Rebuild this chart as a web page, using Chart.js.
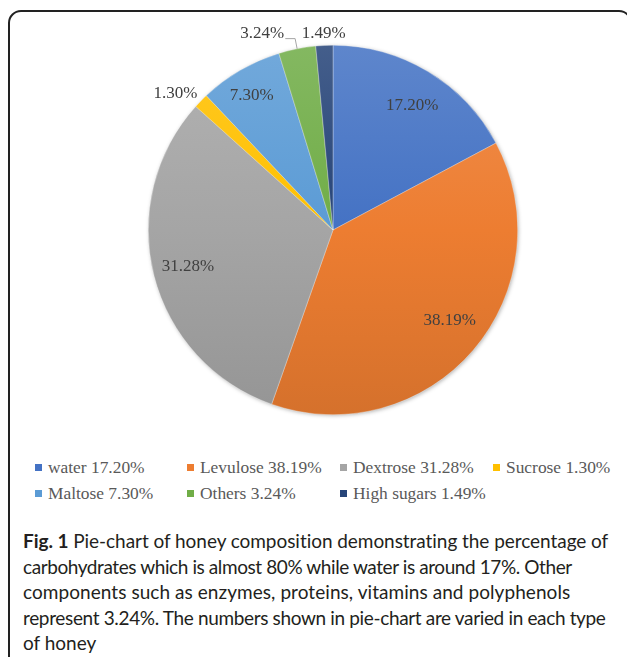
<!DOCTYPE html>
<html>
<head>
<meta charset="utf-8">
<script src="https://cdn.jsdelivr.net/npm/chart.js@4"></script>
<style>
  html, body { margin:0; padding:0; background:#fff; width:627px; height:657px; overflow:hidden; }
  #frame { position:absolute; left:8px; top:10px; width:620px; height:700px; border:2px solid #222; border-radius:13px; }
  #wrap { position:absolute; left:0; top:0; width:627px; height:440px; }
  #legend { position:absolute; left:35px; top:454px; display:grid; grid-template-columns:152px 153px 153px auto; grid-auto-rows:26px;
            font-family:"Liberation Serif","Times New Roman",serif; font-size:17.4px; color:#595959; }
  #legend .it { display:flex; align-items:center; white-space:nowrap; }
  #legend .sw { width:7px; height:7px; margin-right:6px; flex:none; }
  #caption { position:absolute; left:23px; top:528px; font-family:"Lato","Open Sans",sans-serif; font-size:19px; line-height:25.5px; color:#231f20; white-space:nowrap; }
  #caption .l1 { letter-spacing:-0.05px; }
  #caption .l2 { letter-spacing:-0.41px; }
  #caption .l3 { letter-spacing:0.06px; }
  #caption .l4 { letter-spacing:-0.35px; }
</style>
</head>
<body>
<div id="frame"></div>
<div id="wrap"><canvas id="c"></canvas></div>
<div id="legend"></div>
<div id="caption"><div class="l1"><b>Fig. 1</b> Pie-chart of honey composition demonstrating the percentage of</div><div class="l2">carbohydrates which is almost 80% while water is around 17%. Other</div><div class="l3">components such as enzymes, proteins, vitamins and polyphenols</div><div class="l4">represent 3.24%. The numbers shown in pie-chart are varied in each type</div><div>of honey</div></div>
<script>
const categories = ["water", "Levulose", "Dextrose", "Sucrose", "Maltose", "Others", "High sugars"];
const values = [17.20, 38.19, 31.28, 1.30, 7.30, 3.24, 1.49];
const baseColors = ["#4472C4", "#ED7D31", "#A5A5A5", "#FFC000", "#5B9BD5", "#70AD47", "#264478"];

// label placement: radius factor and angle offset (deg) relative to slice middle
const labelRadius = [0.8, 0.8, 0.81, 1.13, 0.85, 1.13, 1.065];
const labelAngleOffset = [1.4, -2.8, 0, -3.4, -1, -8.6, 0];
const leaderLine = [false, false, false, false, false, true, false];

function shade(hex, f) {
  const n = parseInt(hex.slice(1), 16);
  let r = (n >> 16) & 255, g = (n >> 8) & 255, b = n & 255;
  if (f > 0) { r += (255 - r) * f; g += (255 - g) * f; b += (255 - b) * f; }
  else { r *= (1 + f); g *= (1 + f); b *= (1 + f); }
  return `rgb(${Math.round(r)},${Math.round(g)},${Math.round(b)})`;
}

function gradientFor(ctx) {
  const chart = ctx.chart;
  const ca = chart.chartArea;
  if (!ca) return baseColors[ctx.dataIndex];
  const base = baseColors[ctx.dataIndex];
  const g = chart.ctx.createLinearGradient(0, ca.top, 0, ca.bottom);
  g.addColorStop(0, shade(base, 0.14));
  g.addColorStop(0.5, base);
  g.addColorStop(1, shade(base, -0.1));
  return g;
}

const shadowPlugin = {
  id: 'pieShadow',
  beforeDatasetsDraw(chart) {
    const arc = chart.getDatasetMeta(0).data[0];
    if (!arc) return;
    const c = chart.ctx;
    c.save();
    c.shadowColor = 'rgba(0,0,0,0.35)';
    c.shadowBlur = 4;
    c.shadowOffsetX = 1;
    c.shadowOffsetY = 1;
    c.fillStyle = '#999';
    c.beginPath();
    c.arc(arc.x, arc.y, arc.outerRadius - 0.5, 0, Math.PI * 2);
    c.fill();
    c.restore();
  }
};

const labelPlugin = {
  id: 'sliceLabels',
  afterDraw(chart) {
    const c = chart.ctx;
    const meta = chart.getDatasetMeta(0);
    c.save();
    c.font = '17px "Liberation Serif", "Times New Roman", serif';
    c.fillStyle = '#404040';
    c.textAlign = 'center';
    c.textBaseline = 'middle';
    meta.data.forEach((arc, i) => {
      const mid = (arc.startAngle + arc.endAngle) / 2;
      const a = mid + labelAngleOffset[i] * Math.PI / 180;
      const r = arc.outerRadius * labelRadius[i];
      const x = arc.x + Math.cos(a) * r;
      const y = arc.y + Math.sin(a) * r;
      const txt = values[i].toFixed(2) + '%';
      c.fillText(txt, x, y);
      if (leaderLine[i]) {
        const w = c.measureText(txt).width;
        const ex = arc.x + Math.cos(mid) * arc.outerRadius;
        const ey = arc.y + Math.sin(mid) * arc.outerRadius;
        c.strokeStyle = '#a6a6a6';
        c.lineWidth = 1;
        c.beginPath();
        c.moveTo(x + w / 2 + 1, y + 5);
        c.lineTo(ex - 2, y + 5);
        c.lineTo(ex, ey);
        c.stroke();
      }
    });
    c.restore();
  }
};

const chart = new Chart(document.getElementById('c'), {
  type: 'pie',
  data: {
    labels: categories,
    datasets: [{
      data: values,
      backgroundColor: gradientFor,
      borderWidth: 0.6,
      borderColor: 'rgba(255,255,255,0.5)'
    }]
  },
  options: {
    responsive: true,
    maintainAspectRatio: false,
    animation: false,
    layout: { padding: { left: 148, right: 109, top: 45, bottom: 25 } },
    plugins: { legend: { display: false }, tooltip: { enabled: false } }
  },
  plugins: [shadowPlugin, labelPlugin]
});

// HTML legend built from the data arrays
const legend = document.getElementById('legend');
categories.forEach((name, i) => {
  const it = document.createElement('div');
  it.className = 'it';
  const sw = document.createElement('span');
  sw.className = 'sw';
  sw.style.background = baseColors[i];
  it.appendChild(sw);
  it.appendChild(document.createTextNode(name + ' ' + values[i].toFixed(2) + '%'));
  legend.appendChild(it);
});
</script>
</body>
</html>
